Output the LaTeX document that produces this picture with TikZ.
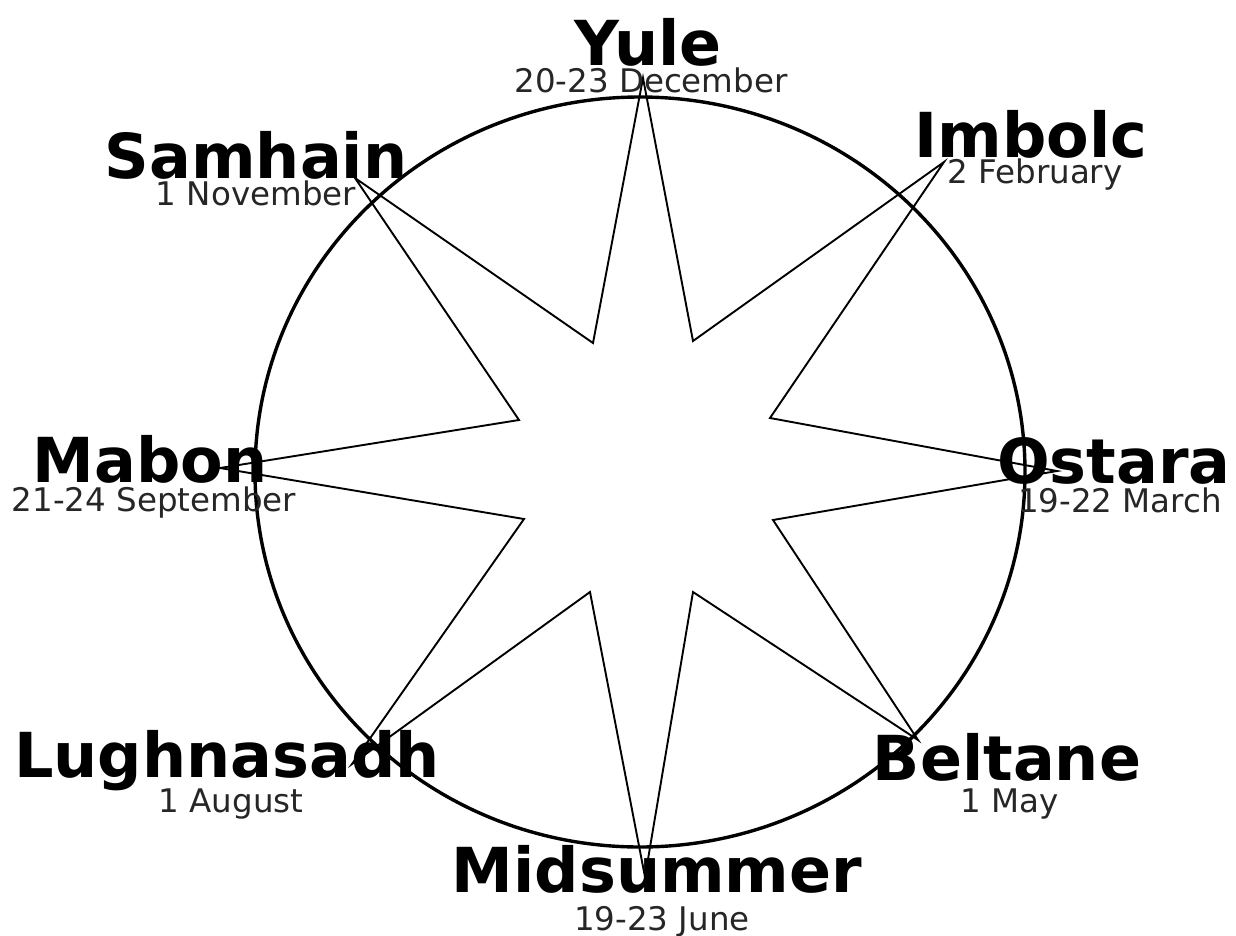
\documentclass[tikz,border=0pt]{standalone}
\usepackage{fontspec}
\setmainfont{DejaVu Sans}
\begin{document}
\begin{tikzpicture}[x=1pt,y=-1pt,
  namelbl/.style={anchor=base,inner sep=0pt,font=\fontsize{62}{62}\selectfont\bfseries},
  datelbl/.style={anchor=base,inner sep=0pt,font=\fontsize{32.5}{32.5}\selectfont,text=black!85},
  ring/.style={line width=3.4pt},
  starline/.style={line width=1.9pt,line join=miter}]
\useasboundingbox (0,0) rectangle (1236,935);
% ring
\coordinate (c) at (640,472);
\draw[ring] (c) ellipse [x radius=385, y radius=375];
% star points
\coordinate (tY) at (643,78);
\coordinate (iYI) at (693,341);
\coordinate (tI) at (944,162);
\coordinate (iIO) at (770,418);
\coordinate (tO) at (1057,471);
\coordinate (iOB) at (773,520);
\coordinate (tB) at (918,740);
\coordinate (iBM) at (693,592);
\coordinate (tM) at (645,877);
\coordinate (iML) at (590,592);
\coordinate (tL) at (352,764);
\coordinate (iLMa) at (524,519);
\coordinate (tMa) at (220,468);
\coordinate (iMaS) at (519,420);
\coordinate (tS) at (355,178);
\coordinate (iSY) at (593,343);
\draw[starline] (tY) -- (iYI) -- (tI) -- (iIO) -- (tO) -- (iOB) -- (tB) -- (iBM)
  -- (tM) -- (iML) -- (tL) -- (iLMa) -- (tMa) -- (iMaS) -- (tS) -- (iSY) -- cycle;
% labels
\node[namelbl] (yule) at (648,65) {Yule};
\node[datelbl] (yuled) at (651,92) {20-23 December};
\node[namelbl] (imbolc) at (1031,157) {Imbolc};
\node[datelbl] (imbolcd) at (1035,183) {2 February};
\node[namelbl] (samhain) at (256,178) {Samhain};
\node[datelbl] (samhaind) at (256,205) {1 November};
\node[namelbl] (mabon) at (150,482) {Mabon};
\node[datelbl] (mabond) at (154,511) {21-24 September};
\node[namelbl] (ostara) at (1114,483) {Ostara};
\node[datelbl] (ostarad) at (1120,512) {19-22 March};
\node[namelbl] (lugh) at (227,777) {Lughnasadh};
\node[datelbl] (lughd) at (231,812) {1 August};
\node[namelbl] (beltane) at (1007,780) {Beltane};
\node[datelbl] (beltaned) at (1010,812) {1 May};
\node[namelbl] (mids) at (657,892) {Midsummer};
\node[datelbl] (midsd) at (662,930) {19-23 June};
\end{tikzpicture}
\end{document}
